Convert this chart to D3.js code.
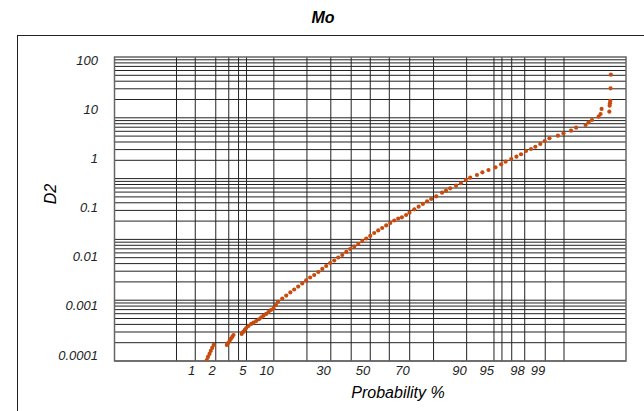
<!DOCTYPE html>
<html>
<head>
<meta charset="utf-8">
<script src="https://cdn.jsdelivr.net/npm/d3@7"></script>
<style>
  body { margin: 0; background: #fff; }
  svg { display: block; font-family: "Liberation Sans", Arial, sans-serif; font-style: italic; }
</style>
</head>
<body>
<div id="chart"></div>
<script>
// cumulative probability (%) of each sample and its D2 value
const probability = [
  1.49, 1.55, 1.63, 1.70, 1.78, 1.87,
  2.83, 2.95, 3.07, 3.19, 3.33, 3.45,
  4.37, 4.56, 4.76, 4.96,
  5.28, 5.68, 6.03, 6.48, 6.94, 7.37, 7.80, 8.33, 8.82, 9.34, 9.93, 10.5, 11.0,
  12.1, 13.2, 14.4, 15.6, 16.9, 18.3, 19.7, 21.2, 22.8, 24.5, 26.2, 27.9, 29.7, 31.6, 33.5,
  35.5, 37.5, 39.5, 41.6, 43.7, 45.8, 47.9, 50.0, 52.1, 54.2, 56.3, 58.4, 60.5, 62.5, 64.5,
  66.3, 68.3, 69.9, 72.1, 74.0, 75.8, 77.5, 79.1, 81.0, 83.0, 84.3, 85.6, 87.3, 88.6, 89.8,
  90.8, 92.2, 93.2, 94.2, 95.2, 95.9, 96.4, 96.96, 97.4, 97.75, 98.08, 98.37, 98.59, 98.81,
  98.98, 99.14, 99.37, 99.49, 99.62,
  99.69, 99.79, 99.815, 99.84, 99.88, 99.89, 99.895,
  99.926, 99.927, 99.928, 99.929, 99.93, 99.931
];
const d2 = [
  7.92e-5, 9.12e-5, 1.05e-4, 1.21e-4, 1.39e-4, 1.60e-4,
  1.60e-4, 1.755e-4, 1.93e-4, 2.12e-4, 2.33e-4, 2.55e-4,
  2.68e-4, 2.94e-4, 3.23e-4, 3.54e-4,
  3.89e-4, 4.28e-4, 4.54e-4, 4.92e-4, 5.33e-4, 5.85e-4, 6.30e-4, 6.83e-4, 7.50e-4, 8.23e-4, 8.92e-4, 1.04e-3, 1.21e-3,
  1.41e-3, 1.62e-3, 1.87e-3, 2.15e-3, 2.47e-3, 2.85e-3, 3.28e-3, 3.77e-3, 4.24e-3, 4.88e-3, 5.62e-3, 6.46e-3, 7.44e-3, 8.36e-3, 9.62e-3,
  0.0108, 0.0125, 0.0143, 0.0161, 0.0181, 0.0208, 0.0234, 0.0264, 0.0303, 0.0341, 0.0383, 0.0431, 0.0484, 0.0544, 0.0598,
  0.0632, 0.0704, 0.0784, 0.0920, 0.104, 0.118, 0.134, 0.149, 0.169, 0.200, 0.220, 0.246, 0.278, 0.311, 0.363,
  0.404, 0.458, 0.520, 0.579, 0.657, 0.756, 0.855, 0.970, 1.08, 1.21, 1.41, 1.55, 1.72, 1.96,
  2.25, 2.56, 2.89, 3.23, 3.65,
  4.20, 4.76, 5.41, 6.02, 7.03, 7.98, 10.1,
  8.88, 11.8, 13.2, 14.7, 26.6, 50.2
];

const xTickLabels = [1, 2, 5, 10, 30, 50, 70, 90, 95, 98, 99];
const xGridLines = [0.5, 1, 2, 3, 4, 5, 10, 20, 30, 40, 50, 60, 70, 80, 90, 95, 96, 97, 98, 99, 99.5];
const yTickLabels = [100, 10, 1, 0.1, 0.01, 0.001, 0.0001];

// inverse of the standard normal cdf (Acklam)
function probit(p) {
  const a = [-3.969683028665376e+01, 2.209460984245205e+02, -2.759285104469687e+02, 1.383577518672690e+02, -3.066479806614716e+01, 2.506628277459239e+00];
  const b = [-5.447609879822406e+01, 1.615858368580409e+02, -1.556989798598866e+02, 6.680131188771972e+01, -1.328068155288572e+01];
  const c = [-7.784894002430293e-03, -3.223964580411365e-01, -2.400758277161838e+00, -2.549732539343734e+00, 4.374664141464968e+00, 2.938163982698783e+00];
  const d = [7.784695709041462e-03, 3.224671290700398e-01, 2.445134137142996e+00, 3.754408661907416e+00];
  const tail = (q) => (((((c[0]*q + c[1])*q + c[2])*q + c[3])*q + c[4])*q + c[5]) / ((((d[0]*q + d[1])*q + d[2])*q + d[3])*q + 1);
  if (p < 0.02425) return tail(Math.sqrt(-2 * Math.log(p)));
  if (p > 1 - 0.02425) return -tail(Math.sqrt(-2 * Math.log(1 - p)));
  const q = p - 0.5, r = q*q;
  return (((((a[0]*r + a[1])*r + a[2])*r + a[3])*r + a[4])*r + a[5])*q / (((((b[0]*r + b[1])*r + b[2])*r + b[3])*r + b[4])*r + 1);
}

const chart = {
  width: 644,
  height: 411,
  plot: { left: 114.5, right: 626, top: 57, bottom: 361 },

  init() {
    const svg = d3.select('#chart').append('svg')
      .attr('width', this.width)
      .attr('height', this.height);
    this.svg = svg;

    const { left, right, top, bottom } = this.plot;
    // probability axis: normal scores
    this.z = d3.scaleLinear().domain([-3.4, 3.4]).range([left, right]);
    this.x = (p) => this.z(probit(p / 100));
    // value scale used for labels and points
    this.y = d3.scaleLog().domain([1e-4, 100]).range([355, 60]);
    // the grid of the paper is ruled over five decades
    this.yGrid = d3.scaleLog().domain([1e-3, 100]).range([bottom, top]);

    this.drawFrame();
    this.drawGrid();
    this.drawLabels();
    this.drawPoints();
  },

  drawFrame() {
    this.svg.append('rect')
      .attr('x', 17.5).attr('y', 35.5)
      .attr('width', 700).attr('height', 500)
      .attr('fill', 'none').attr('stroke', '#222').attr('stroke-width', 1);

    this.svg.append('text')
      .attr('x', 323).attr('y', 23)
      .attr('text-anchor', 'middle')
      .attr('font-size', 16).attr('font-weight', 'bold')
      .text('Mo');
  },

  drawGrid() {
    const { left, right, top, bottom } = this.plot;
    const g = this.svg.append('g').attr('stroke', '#222').attr('stroke-width', 1);

    const hLines = [];
    for (let e = -3; e < 2; e++) {
      for (let k = 1; k < 10; k++) hLines.push(k * Math.pow(10, e));
    }
    g.selectAll('line.h').data(hLines).join('line')
      .attr('class', 'h')
      .attr('x1', left).attr('x2', right)
      .attr('y1', (d) => this.yGrid(d)).attr('y2', (d) => this.yGrid(d));

    g.selectAll('line.v').data(xGridLines).join('line')
      .attr('class', 'v')
      .attr('x1', (d) => this.x(d)).attr('x2', (d) => this.x(d))
      .attr('y1', top).attr('y2', bottom);

    this.svg.append('rect')
      .attr('x', left).attr('y', top)
      .attr('width', right - left).attr('height', bottom - top)
      .attr('fill', 'none').attr('stroke', '#666').attr('stroke-width', 1.5);
  },

  drawLabels() {
    const { bottom } = this.plot;

    this.svg.append('g').selectAll('text').data(yTickLabels).join('text')
      .attr('x', 98).attr('y', (d) => this.y(d) + 4.5)
      .attr('text-anchor', 'end')
      .attr('font-size', 13)
      .attr('fill', '#222')
      .text((d) => String(d));

    this.svg.append('g').selectAll('text').data(xTickLabels).join('text')
      .attr('x', (d) => this.x(d)).attr('y', bottom + 13.5)
      .attr('text-anchor', 'end')
      .attr('font-size', 13)
      .attr('fill', '#222')
      .text((d) => String(d));

    this.svg.append('text')
      .attr('x', 398).attr('y', 398)
      .attr('text-anchor', 'middle')
      .attr('font-size', 16)
      .text('Probability %');

    this.svg.append('text')
      .attr('transform', 'translate(56,194) rotate(-90)')
      .attr('text-anchor', 'middle')
      .attr('font-size', 16)
      .text('D2');
  },

  drawPoints() {
    const { left, right, top, bottom } = this.plot;
    this.svg.append('clipPath').attr('id', 'clip')
      .append('rect')
      .attr('x', left).attr('y', top)
      .attr('width', right - left).attr('height', bottom - top);

    const points = probability.map((p, i) => ({ p, v: d2[i] }));
    this.svg.append('g').attr('clip-path', 'url(#clip)')
      .selectAll('circle').data(points).join('circle')
      .attr('cx', (d) => this.x(d.p))
      .attr('cy', (d) => this.y(d.v))
      .attr('r', 2.1)
      .attr('fill', '#c84b0d');
  }
};

chart.init();
</script>
</body>
</html>
